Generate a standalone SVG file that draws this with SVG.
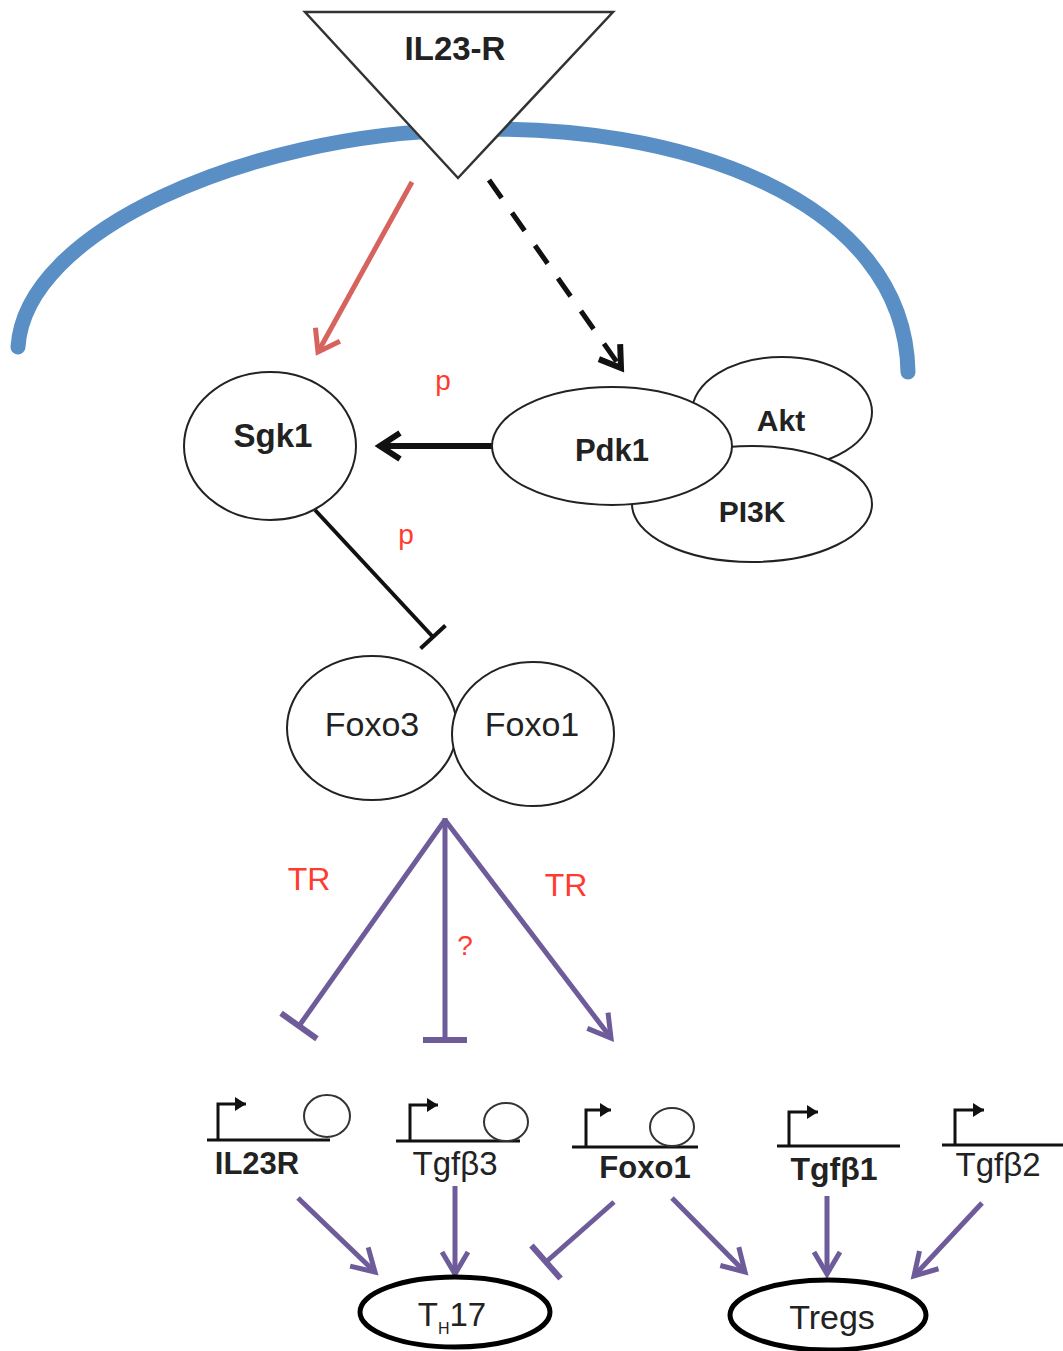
<svg xmlns="http://www.w3.org/2000/svg" width="1063" height="1351" viewBox="0 0 1063 1351">
<style>
.node{fill:#fff;stroke:#222;stroke-width:2}
.lbl{font-family:"Liberation Sans",Arial,sans-serif;fill:#222;text-anchor:middle}
.b{font-weight:bold}
.red{font-family:"Liberation Sans",Arial,sans-serif;fill:#ff3b2f;text-anchor:middle}
.pur{fill:none;stroke:#6e5c9a;stroke-width:5}
.gl{fill:none;stroke:#111;stroke-width:3}
.gc{fill:#fff;stroke:#333;stroke-width:2}
</style>
<defs>
<marker id="aPur" markerUnits="userSpaceOnUse" markerWidth="40" markerHeight="40" viewBox="-30 -20 40 40" refX="0" refY="0" orient="auto">
<path d="M-22,-13 L0,0 L-22,13" fill="none" stroke="#6e5c9a" stroke-width="5" stroke-linejoin="miter"/>
</marker>
<marker id="tPur" markerUnits="userSpaceOnUse" markerWidth="50" markerHeight="50" viewBox="-25 -25 50 50" refX="0" refY="0" orient="auto">
<path d="M0,-22 L0,22" fill="none" stroke="#6e5c9a" stroke-width="6"/>
</marker>
<marker id="aBlk" markerUnits="userSpaceOnUse" markerWidth="40" markerHeight="40" viewBox="-30 -20 40 40" refX="0" refY="0" orient="auto">
<path d="M-20,-13 L0,0 L-20,13" fill="none" stroke="#111" stroke-width="6" stroke-dasharray="none"/>
</marker>
<marker id="aRed" markerUnits="userSpaceOnUse" markerWidth="40" markerHeight="40" viewBox="-30 -20 40 40" refX="0" refY="0" orient="auto">
<path d="M-20,-14 L0,0 L-20,14" fill="none" stroke="#d6635e" stroke-width="5"/>
</marker>
<marker id="tBlk" markerUnits="userSpaceOnUse" markerWidth="40" markerHeight="40" viewBox="-20 -20 40 40" refX="0" refY="0" orient="auto">
<path d="M0,-17 L0,17" fill="none" stroke="#111" stroke-width="4"/>
</marker>
<marker id="aSm" markerUnits="userSpaceOnUse" markerWidth="20" markerHeight="20" viewBox="-12 -10 20 20" refX="0" refY="0" orient="auto">
<path d="M-11,-7 L0,0 L-11,7 Z" fill="#111"/>
</marker>
</defs>

<!-- membrane -->
<path id="membrane" d="M18,347 C25,230 250,135 458,130 C680,120 905,200 908,372" fill="none" stroke="#5a8fc6" stroke-width="15" stroke-linecap="round"/>

<g id="IL23-R">
<polygon points="305,12 613,12 458,178" fill="#fff" stroke="#333" stroke-width="2.5"/>
<text class="lbl b" x="455" y="60" font-size="33">IL23-R</text>
</g>

<g id="connectors">
<line x1="412" y1="182" x2="318" y2="352" stroke="#d6635e" stroke-width="5" marker-end="url(#aRed)"/>
<line x1="489" y1="180" x2="621" y2="368" stroke="#111" stroke-width="5" stroke-dasharray="22,18" marker-end="url(#aBlk)"/>
<line x1="492" y1="446" x2="380" y2="446" stroke="#111" stroke-width="6" marker-end="url(#aBlk)"/>
<line x1="315" y1="510" x2="433" y2="637" stroke="#111" stroke-width="4" marker-end="url(#tBlk)"/>
<line class="pur" x1="445" y1="820" x2="299" y2="1026" marker-end="url(#tPur)"/>
<line class="pur" x1="445" y1="818" x2="445" y2="1040" marker-end="url(#tPur)"/>
<line class="pur" x1="445" y1="820" x2="611" y2="1038" marker-end="url(#aPur)"/>
<line class="pur" x1="298" y1="1198" x2="375" y2="1272" marker-end="url(#aPur)"/>
<line class="pur" x1="455" y1="1186" x2="455" y2="1274" marker-end="url(#aPur)"/>
<line class="pur" x1="614" y1="1202" x2="546" y2="1262" marker-end="url(#tPur)"/>
<line class="pur" x1="672" y1="1198" x2="745" y2="1272" marker-end="url(#aPur)"/>
<line class="pur" x1="827" y1="1196" x2="827" y2="1274" marker-end="url(#aPur)"/>
<line class="pur" x1="982" y1="1203" x2="914" y2="1276" marker-end="url(#aPur)"/>
</g>

<g id="labels">
<text class="red" x="443" y="390" font-size="28">p</text>
<text class="red" x="406" y="544" font-size="28">p</text>
<text class="red" x="309" y="890" font-size="32">TR</text>
<text class="red" x="566" y="896" font-size="32">TR</text>
<text class="red" x="465" y="955" font-size="28">?</text>
</g>

<g id="Sgk1">
<ellipse class="node" cx="270" cy="446" rx="86" ry="74"/>
<text class="lbl b" x="273" y="447" font-size="33">Sgk1</text>
</g>

<g id="Akt">
<ellipse class="node" cx="782" cy="412" rx="90" ry="55"/>
<text class="lbl b" x="781" y="431" font-size="30">Akt</text>
</g>
<g id="PI3K">
<ellipse class="node" cx="752" cy="504" rx="120" ry="58"/>
<text class="lbl b" x="752" y="522" font-size="30">PI3K</text>
</g>
<g id="Pdk1">
<ellipse class="node" cx="612" cy="446" rx="120" ry="59"/>
<text class="lbl b" x="612" y="461" font-size="31">Pdk1</text>
</g>

<g id="Foxo3">
<ellipse class="node" cx="372" cy="728" rx="85" ry="72"/>
<text class="lbl" x="372" y="736" font-size="34" fill="#333">Foxo3</text>
</g>
<g id="Foxo1">
<ellipse class="node" cx="533" cy="734" rx="81" ry="72" fill="none"/>
<text class="lbl" x="532" y="736" font-size="34" fill="#333">Foxo1</text>
</g>

<g id="gene-IL23R">
<line class="gl" x1="207" y1="1140" x2="330" y2="1140"/>
<path class="gl" d="M218,1140 V1104 H246" marker-end="url(#aSm)"/>
<ellipse class="gc" cx="327" cy="1116" rx="23" ry="21"/>
<text class="lbl b" x="257" y="1174" font-size="31">IL23R</text>
</g>
<g id="gene-Tgfb3">
<line class="gl" x1="396" y1="1141" x2="520" y2="1141"/>
<path class="gl" d="M410,1141 V1105 H438" marker-end="url(#aSm)"/>
<ellipse class="gc" cx="506" cy="1122" rx="22" ry="19"/>
<text class="lbl" x="455" y="1175" font-size="33">Tgfβ3</text>
</g>
<g id="gene-Foxo1">
<line class="gl" x1="572" y1="1147" x2="698" y2="1147"/>
<path class="gl" d="M586,1147 V1110 H611" marker-end="url(#aSm)"/>
<ellipse class="gc" cx="672" cy="1127" rx="22" ry="19"/>
<text class="lbl b" x="645" y="1178" font-size="31">Foxo1</text>
</g>
<g id="gene-Tgfb1">
<line class="gl" x1="777" y1="1146" x2="900" y2="1146"/>
<path class="gl" d="M789,1146 V1112 H818" marker-end="url(#aSm)"/>
<text class="lbl b" x="834" y="1180" font-size="32">Tgfβ1</text>
</g>
<g id="gene-Tgfb2">
<line class="gl" x1="942" y1="1145" x2="1063" y2="1145"/>
<path class="gl" d="M955,1145 V1110 H984" marker-end="url(#aSm)"/>
<text class="lbl" x="998" y="1176" font-size="33">Tgfβ2</text>
</g>

<g id="TH17">
<ellipse cx="455" cy="1312" rx="95" ry="35" fill="#fff" stroke="#000" stroke-width="5"/>
<text class="lbl" x="452" y="1326" font-size="33" fill="#333">T<tspan font-size="16" dy="8">H</tspan><tspan dy="-8">17</tspan></text>
</g>
<g id="Tregs">
<ellipse cx="828" cy="1315" rx="98" ry="35" fill="#fff" stroke="#000" stroke-width="5"/>
<text class="lbl" x="832" y="1329" font-size="34" fill="#333">Tregs</text>
</g>
</svg>
